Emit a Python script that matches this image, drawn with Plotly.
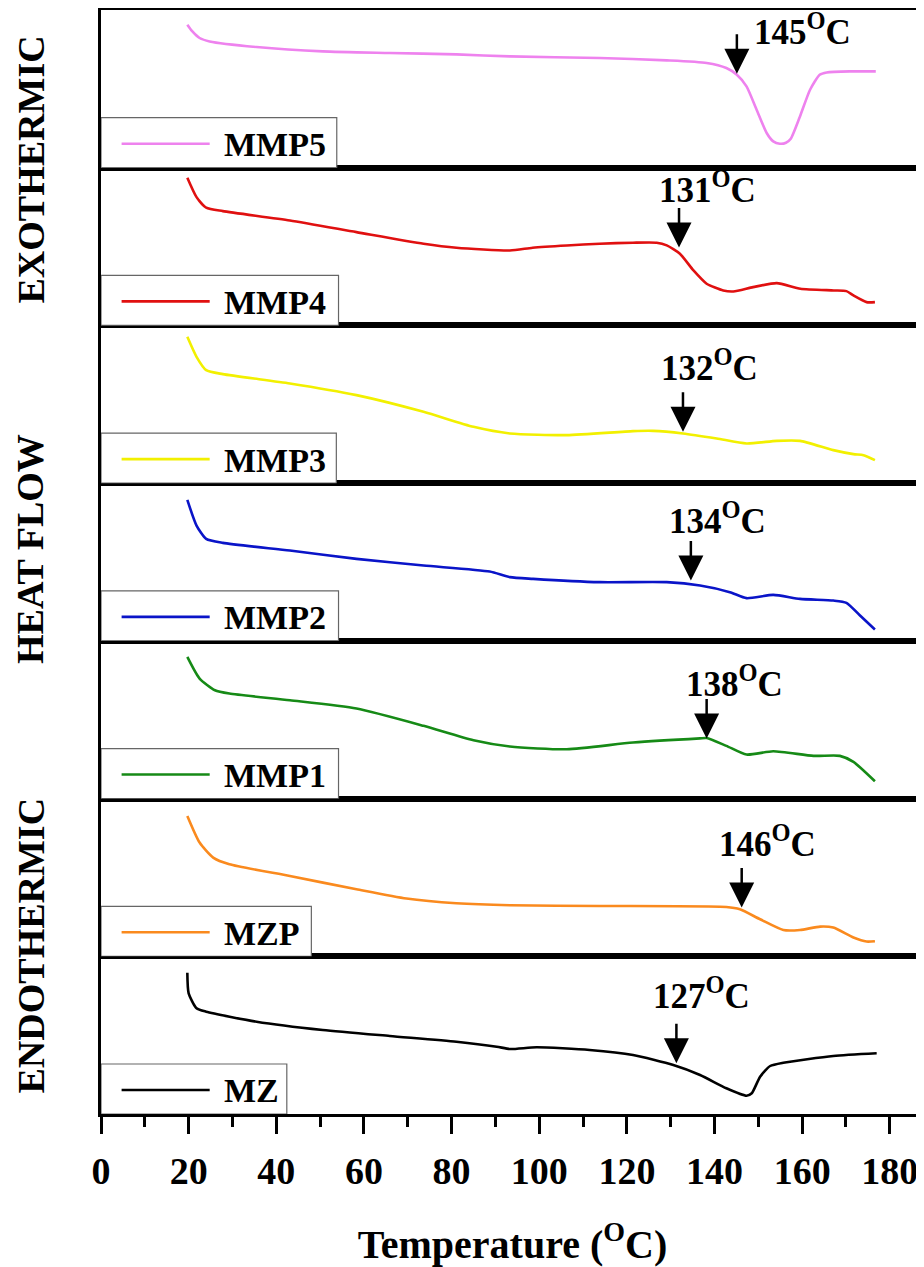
import plotly.graph_objects as go
from plotly.subplots import make_subplots

# ---- data (x: temperature in degC, y: heat flow, arbitrary units per panel) ----
names = ["MMP5", "MMP4", "MMP3", "MMP2", "MMP1", "MZP", "MZ"]
colors = ["#EE82EE", "#E01010", "#F2F000", "#0A14C8", "#168A16", "#FA8A1E", "#000000"]

mmp5_x = [19.7, 20.8, 22.5, 24.8, 35.5, 50.6, 65.9, 81.1, 93.3, 113.8, 129.1, 138.2, 142.7, 145.1, 147.3, 149.6, 151.9, 153.4, 154.9, 156.3, 157.4, 159.5, 161.8, 164.0, 165.6, 170.9, 176.8]
mmp5_y = [143, 136.5, 129.7, 126.3, 120.7, 116.3, 114.7, 113.3, 111.3, 109.7, 107.3, 104.7, 99.7, 93, 81.3, 58, 34.7, 26.3, 24, 25, 29, 51.3, 78, 93, 95.3, 96.3, 96.3]

mmp4_x = [19.7, 21.8, 24.0, 27.8, 43.1, 58.3, 73.6, 81.1, 93.3, 98.5, 106.3, 113.8, 121.4, 126.8, 129.1, 132.1, 135.2, 138.2, 142.0, 144.3, 148.8, 154.2, 159.6, 167.2, 170.1, 171.7, 174.7, 176.6]
mmp4_y = [147.7, 128.3, 117.7, 114.3, 105, 93.3, 81.7, 77.7, 75, 77.7, 80, 81.7, 82.7, 82.7, 80, 71.7, 55, 41.7, 35, 34, 38.3, 42.3, 36.7, 35, 34.3, 30, 23.3, 23.3]

mmp3_x = [19.7, 21.8, 24.0, 27.8, 43.1, 58.3, 73.6, 85.0, 93.3, 106.3, 121.4, 126.0, 132.8, 140.5, 147.3, 154.2, 159.5, 167.1, 171.7, 174.0, 176.6]
mmp3_y = [146.3, 126.3, 113, 109, 99.7, 88, 71.3, 56.3, 49.7, 48, 52, 52.3, 49.7, 44.7, 39.7, 42.3, 42.3, 33, 29, 28, 23]

mmp2_x = [19.7, 21.8, 24.0, 27.8, 43.1, 58.3, 73.6, 88.7, 93.3, 98.6, 113.8, 129.1, 136.7, 143.5, 147.3, 153.4, 159.5, 167.1, 170.1, 173.2, 176.6]
mmp2_y = [141, 115.3, 102, 98, 90.3, 82, 75.3, 69.3, 63.7, 62, 58.7, 58.7, 55.3, 48.7, 42.7, 46, 42, 40.3, 38, 25.3, 11.3]

mmp1_x = [19.7, 22.5, 26.0, 29.3, 43.1, 58.3, 73.6, 85.0, 93.3, 106.3, 121.4, 136.7, 138.2, 142.7, 147.3, 153.4, 162.6, 168.6, 171.7, 176.6]
mmp1_y = [141.7, 120, 108.3, 105, 98.3, 90, 72.7, 58.3, 52, 49.3, 56, 60.2, 60.5, 52.7, 44, 47.3, 42.7, 42.7, 36.7, 17.3]

mzp_x = [19.7, 22.5, 25.6, 29.3, 43.1, 58.3, 69.7, 81.1, 93.3, 113.8, 142.7, 145.8, 150.4, 155.7, 159.5, 164.1, 167.1, 171.7, 174.7, 176.6]
mzp_y = [140.3, 113.7, 98.7, 92, 80.3, 67, 57.7, 53, 51, 50.3, 49.3, 47, 37, 26.3, 26.3, 29.7, 28.7, 18.7, 14.7, 15]

mz_x = [19.7, 20.0, 21.8, 24.0, 35.5, 50.6, 65.9, 81.1, 90.3, 93.3, 99.4, 111.5, 121.4, 130.6, 136.7, 142.7, 147.3, 148.5, 150.4, 152.7, 155.7, 167.1, 177.0]
mz_y = [141.3, 120.7, 105.7, 102.3, 92.3, 84, 78, 72.3, 67.3, 65, 66.7, 64, 59, 49, 39, 25.7, 18.3, 20.7, 37.3, 48, 51.3, 58, 60.7]

series_x = [mmp5_x, mmp4_x, mmp3_x, mmp2_x, mmp1_x, mzp_x, mz_x]
series_y = [mmp5_y, mmp4_y, mmp3_y, mmp2_y, mmp1_y, mzp_y, mz_y]

# onset annotations
onset_labels = ["145", "131", "132", "134", "138", "146", "127"]
arrow_x = [145.1, 131.9, 132.8, 134.6, 138.2, 146.2, 131.3]
arrow_y = [94, 78, 51.3, 60.3, 60, 48.7, 50.7]
label_x = [148.5, 126.8, 127.3, 129.1, 133.0, 140.5, 125.6]
label_y = [134, 133.5, 114, 118, 113.5, 110.5, 116]

# legend box right edge (in temperature units)
legend_x1 = [53.8, 54.2, 53.7, 54.2, 54.2, 48.0, 42.4]

tick_vals = [0, 20, 40, 60, 80, 100, 120, 140, 160, 180]
side_labels = ["EXOTHERMIC", "HEAT FLOW", "ENDOTHERMIC"]

# ---- figure (page body has an 8px margin, so the figure is offset by 8px) ----
W, H = 916, 1259
ML, MR, MT, MB = 93, 0, 2, 153
FONT = "Liberation Serif, Times New Roman, serif"
XMAX = 187.8
YMAX = 157.7

n = len(names)
fig = make_subplots(rows=n, cols=1, shared_xaxes=True, vertical_spacing=0)

for i in range(n):
    fig.add_trace(go.Scatter(x=series_x[i], y=series_y[i], mode="lines",
                             line=dict(color=colors[i], width=2.6, shape="spline", smoothing=0.6),
                             name=names[i], showlegend=False), row=i + 1, col=1)

for i in range(n):
    r = i + 1
    xa = dict(range=[0, XMAX], showgrid=False, zeroline=False, showline=True,
              linecolor="black", linewidth=3, mirror=True, automargin=False)
    if r == n:
        xa.update(ticks="outside", ticklen=17, tickwidth=2.5, tickcolor="black",
                  tickvals=tick_vals, showticklabels=True, ticklabelstandoff=4,
                  tickfont=dict(family=FONT, size=38, color="black", weight="bold"),
                  minor=dict(dtick=10, tick0=0, ticks="outside", ticklen=10, tickwidth=2.5,
                             tickcolor="black"),
                  title=dict(text="Temperature (<sup>O</sup>C)", standoff=43,
                             font=dict(family=FONT, size=40, color="black", weight="bold")))
    else:
        xa.update(ticks="", showticklabels=False)
    fig.update_xaxes(row=r, col=1, **xa)
    fig.update_yaxes(row=r, col=1, range=[0, YMAX], showgrid=False, zeroline=False,
                     showline=True, linecolor="black", linewidth=3, mirror=False,
                     ticks="", showticklabels=False, automargin=False)

annotations = []
shapes = []
for i in range(n):
    r = i + 1
    xr = "x" if r == 1 else f"x{r}"
    yr = "y" if r == 1 else f"y{r}"
    # onset arrow
    annotations.append(dict(x=arrow_x[i], y=arrow_y[i], xref=xr, yref=yr, text="",
                            showarrow=True, ax=0, ay=-41, axref="pixel", ayref="pixel",
                            arrowhead=2, arrowsize=2.0, arrowwidth=2.5, arrowcolor="black"))
    annotations.append(dict(x=label_x[i], y=label_y[i], xref=xr, yref=yr,
                            text=f"{onset_labels[i]}<sup>O</sup>C", showarrow=False,
                            xanchor="left", yanchor="middle", yshift=4,
                            font=dict(family=FONT, size=35, color="black", weight="bold")))
    # legend box
    shapes.append(dict(type="rect", xref=xr, yref=yr, x0=0, x1=legend_x1[i], y0=0, y1=50,
                       line=dict(color="#666666", width=1.2), fillcolor="white", layer="above"))
    shapes.append(dict(type="line", xref=xr, yref=yr, x0=4.7, x1=24.8, y0=24, y1=24,
                       line=dict(color=colors[i], width=2.6), layer="above"))
    annotations.append(dict(x=27.5, y=23, xref=xr, yref=yr, text=names[i], showarrow=False,
                            xanchor="left", yanchor="middle",
                            font=dict(family=FONT, size=34, color="black", weight="bold")))

plot_h = H - MT - MB
side_y_px = [161.5, 541, 937.5]   # label centres, in figure pixels
for lab, ypx in zip(side_labels, side_y_px):
    annotations.append(dict(x=(22 - ML) / (W - ML - MR), y=(H - MB - ypx) / plot_h,
                            xref="paper", yref="paper", text=lab, showarrow=False,
                            textangle=-90, xanchor="center", yanchor="middle",
                            font=dict(family=FONT, size=38, color="black", weight="bold")))

fig.update_layout(width=W, height=H, margin=dict(l=ML, r=MR, t=MT, b=MB, autoexpand=False),
                  paper_bgcolor="white", plot_bgcolor="white",
                  annotations=annotations, shapes=shapes, showlegend=False)

fig.write_html("out.html")
